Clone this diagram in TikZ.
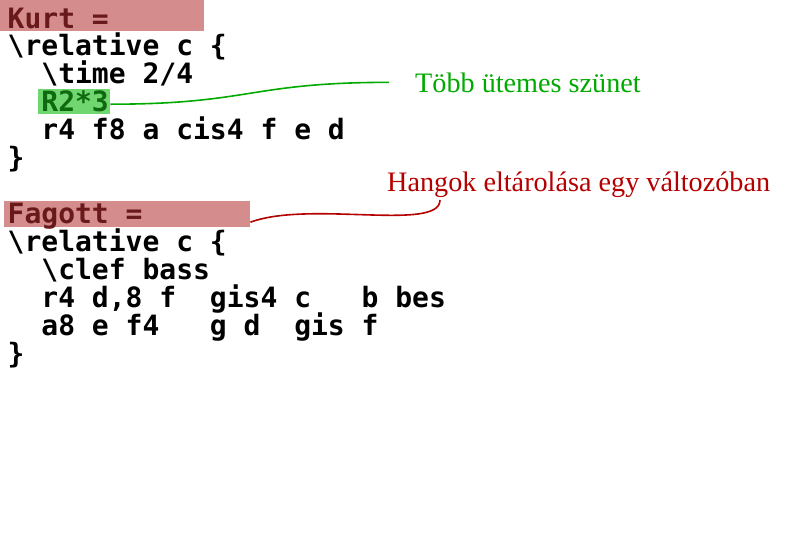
\documentclass[tikz,border=0pt]{standalone}
\usepackage{fontspec}
\setmainfont{Liberation Serif}
\setmonofont{DejaVu Sans Mono}
\usetikzlibrary{calc}
\definecolor{hlred}{RGB}{212,140,140}
\definecolor{hlredtext}{RGB}{105,25,25}
\definecolor{hlgreen}{RGB}{112,214,112}
\definecolor{hlgreentext}{RGB}{15,105,15}
\definecolor{notegreen}{RGB}{0,170,0}
\definecolor{notered}{RGB}{180,0,0}
\newcommand{\codefont}{\fontsize{28}{28}\selectfont\ttfamily\bfseries}
\newcommand{\notefont}{\fontsize{28.2}{30}\selectfont\rmfamily}
\tikzset{
  code/.style={anchor=base west, inner sep=0pt, font=\codefont},
  hlbox/.style={anchor=north west, inner sep=0pt, draw=none},
  note/.style={anchor=base west, inner sep=0pt, font=\notefont},
  conn/.style={line width=1.6pt}
}
\begin{document}
\begin{tikzpicture}[x=1pt,y=-1pt]
\useasboundingbox (0,0) rectangle (786,533);
% highlight boxes
\node[hlbox, fill=hlred, minimum width=204pt, minimum height=31pt] (kurtbox) at (0,0) {};
\node[hlbox, fill=hlgreen, minimum width=72pt, minimum height=25pt] (r23box) at (38,89) {};
\node[hlbox, fill=hlred, minimum width=246pt, minimum height=26pt] (fagbox) at (4,201) {};
% Kurt block
\node[code, text=hlredtext] (k1) at (7.5,28) {Kurt~=};
\node[code] (k2) at (7.5,55.95) {\textbackslash relative~c~\{};
\node[code] (k3) at (7.5,83.9) {~~\textbackslash time~2/4};
\node[code] (k4) at (7.5,111.85) {~~\textcolor{hlgreentext}{R2*3}};
\node[code] (k5) at (7.5,139.8) {~~r4~f8~a~cis4~f~e~d};
\node[code] (k6) at (7.5,167.75) {\}};
% Fagott block
\node[code, text=hlredtext] (f1) at (7.5,223.65) {Fagott~=};
\node[code] (f2) at (7.5,251.6) {\textbackslash relative~c~\{};
\node[code] (f3) at (7.5,279.55) {~~\textbackslash clef~bass};
\node[code] (f4) at (7.5,307.5) {~~r4~d,8~f~~gis4~c~~~b~bes};
\node[code] (f5) at (7.5,335.45) {~~a8~e~f4~~~g~d~~gis~f};
\node[code] (f6) at (7.5,363.4) {\}};
% notes
\node[note, text=notegreen] (tobb) at (415,92) {Több ütemes szünet};
\node[note, text=notered] (hang) at (387,191) {Hangok eltárolása egy változóban};
\coordinate (tobbend) at ($(tobb.west)+(-26,0)$);
\coordinate (hangend) at ($(hang.base west)+(53,9)$);
% connectors
\draw[conn, notegreen] ([yshift=-2.5pt]r23box.east) .. controls +(140,0) and +(-139,0) .. (tobbend);
\draw[conn, notered] ([yshift=-8pt]fagbox.east) .. controls +(59,-22) and +(0,32) .. (hangend);
\end{tikzpicture}
\end{document}
